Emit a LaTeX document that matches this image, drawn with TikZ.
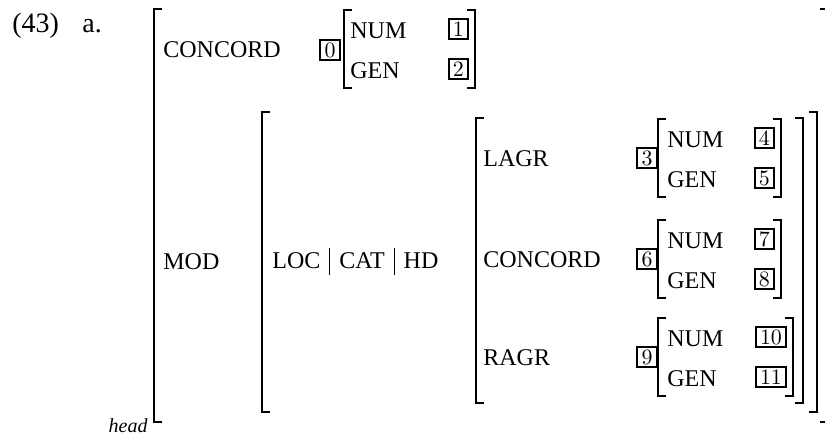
\documentclass[tikz,border=0pt]{standalone}
\usepackage[no-math]{fontspec}
\setmainfont{Liberation Serif}
\begin{document}
\begin{tikzpicture}[x=0.5pt, y=-0.5pt,
    lbl/.style={inner sep=0pt, anchor=base west, font=\fontsize{12}{14}\selectfont},
    tagbox/.style={draw, line width=0.9pt, inner xsep=2.1pt, inner ysep=1.4pt, font=\fontsize{11}{13}\selectfont},
    brk/.style={line width=0.7pt}]

    % frame of the picture
    \useasboundingbox (0,0) rectangle (825,434);

    % bracket pair: left x, right x, top y, bottom y
    \def\avm#1#2#3#4{%
        \draw[brk] (#1+8,#3) -| (#1,#4) -- (#1+8,#4);
        \draw[brk] (#2-8,#3) -| (#2,#4) -- (#2-8,#4);
    }
    \def\pathbar{\hspace{4.5pt}\rule[-3.5pt]{0.5pt}{13.5pt}\hspace{4.5pt}}

    % --- example number ---
    \node[lbl, font=\fontsize{14}{16}\selectfont] (exnum) at (12,32) {(43)};
    \node[lbl, font=\fontsize{14}{16}\selectfont] (exlet) at (82,32) {a.};

    % --- outer structure ---
    \avm{154}{828}{9}{422}
    \node[inner sep=0pt, anchor=base east, font=\fontsize{10}{12}\selectfont\itshape] (head) at (148,432) {head};
    \node[lbl] (concord) at (163,57) {CONCORD};
    \node[lbl] (mod) at (163,269) {MOD};

    % CONCORD value
    \node[tagbox] (t0) at (330,50) {$0$};
    \avm{344}{475}{10}{88}
    \node[lbl] (num0) at (350,38) {NUM};
    \node[lbl] (gen0) at (350,78) {GEN};
    \node[tagbox, anchor=east] (t1) at (469,29) {$1$};
    \node[tagbox, anchor=east] (t2) at (469,69) {$2$};

    % --- MOD value ---
    \avm{262}{817}{112}{412}
    \node[lbl] (path) at (272,268) {LOC\pathbar CAT\pathbar HD};
    \avm{476}{803}{118}{403}

    % LAGR, CONCORD, RAGR rows
    \foreach \nm/\lbltext/\tg/\y/\na/\nb/\r in {lagr/LAGR/3/119/4/5/781,
                                               conc/CONCORD/6/220/7/8/781,
                                               ragr/RAGR/9/318/10/11/793} {
        \node[lbl] (\nm) at (483,\y+47) {\lbltext};
        \node[tagbox] (t\tg) at (647,\y+39) {$\tg$};
        \avm{658}{\r}{\y}{\y+78}
        \node[lbl] (num\tg) at (667,\y+28) {NUM};
        \node[lbl] (gen\tg) at (667,\y+68) {GEN};
        \node[tagbox, anchor=east] (t\na) at (\r-6,\y+19) {$\na$};
        \node[tagbox, anchor=east] (t\nb) at (\r-6,\y+59) {$\nb$};
    }

\end{tikzpicture}
\end{document}
